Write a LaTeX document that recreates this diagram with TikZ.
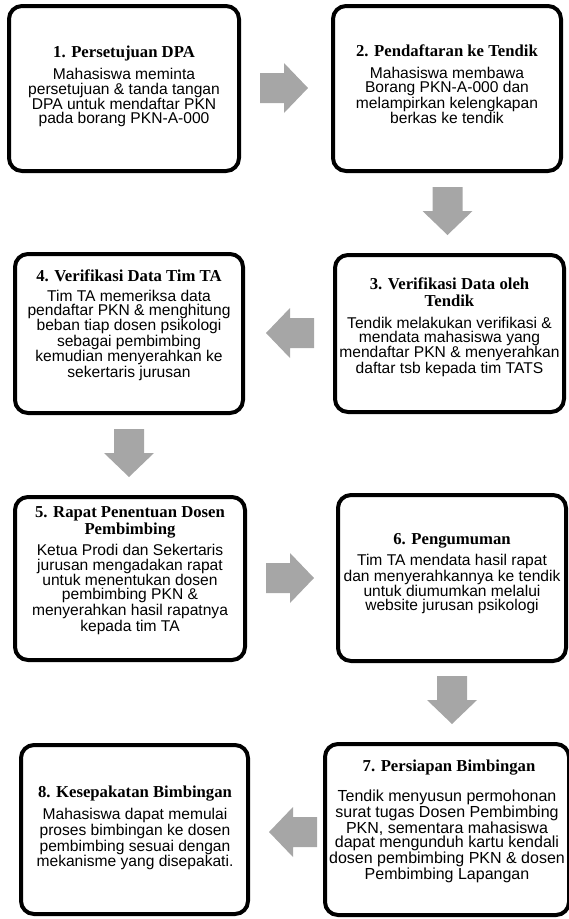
\documentclass[tikz,border=0pt]{standalone}
\usepackage{fontspec}
\setmainfont{Liberation Serif}
\newfontfamily\bodyfam{Liberation Sans}
\newfontfamily\titlefam{Liberation Serif}
\definecolor{arrowgray}{RGB}{166,166,166}
\tikzset{
  box/.style={draw=black, line width=4pt, rounded corners=13pt, fill=white, inner sep=0pt},
  ttl/.style={anchor=base, align=center, inner sep=0pt, font=\titlefam\bfseries\fontsize{16.7}{17.3}\selectfont},
  bdy/.style={anchor=base, align=center, inner sep=0pt, font=\bodyfam\fontsize{15.6}{14.3}\selectfont},
  blockarrow/.pic={\fill[arrowgray] (-24,-15) -- (0,-15) -- (0,-25) -- (24,0) -- (0,25) -- (0,15) -- (-24,15) -- cycle;}
}
\begin{document}
\begin{tikzpicture}[x=1pt,y=-1pt]
\useasboundingbox (0,0) rectangle (569,919);
\begin{scope}
\clip (0,0) rectangle (569,919);
% boxes
\node[box, minimum width=230pt, minimum height=165pt] (b1) at (124,88.5) {};
\node[box, minimum width=228pt, minimum height=165pt] (b2) at (447,88.5) {};
\node[box, minimum width=229pt, minimum height=157pt] (b3) at (449.5,333.5) {};
\node[box, minimum width=228pt, minimum height=159pt] (b4) at (129,333.5) {};
\node[box, minimum width=230pt, minimum height=163pt] (b5) at (130,578.5) {};
\node[box, minimum width=228pt, minimum height=166pt] (b6) at (452,578) {};
\node[box, minimum width=244pt, minimum height=171pt] (b7) at (447,829.5) {};
\node[box, minimum width=227pt, minimum height=169pt] (b8) at (134.5,829.5) {};
\end{scope}
% titles (anchor base = baseline of the last line)
\node[ttl] (t1) at (124,57) {1. Persetujuan DPA};
\node[ttl] (t2) at (447,56) {2. Pendaftaran ke Tendik};
\node[ttl] (t3) at (449.5,306.8) {3. Verifikasi Data oleh\\Tendik};
\node[ttl] (t4) at (129,281) {4. Verifikasi Data Tim TA};
\node[ttl] (t5) at (130,534.8) {5. Rapat Penentuan Dosen\\Pembimbing};
\node[ttl] (t6) at (452,544.3) {6. Pengumuman};
\node[ttl] (t7) at (449,771.7) {7. Persiapan Bimbingan};
\node[ttl] (t8) at (135,797.3) {8. Kesepakatan Bimbingan};
% bodies (anchor base = baseline of the last line)
\node[bdy] (d1) at (124,123.9) {Mahasiswa meminta\\persetujuan \& tanda tangan\\DPA untuk mendaftar PKN\\pada borang PKN-A-000};
\node[bdy] (d2) at (447,123.9) {Mahasiswa membawa\\Borang PKN-A-000 dan\\melampirkan kelengkapan\\berkas ke tendik};
\node[bdy] (d3) at (449.5,373.4) {Tendik melakukan verifikasi \&\\mendata mahasiswa yang\\mendaftar PKN \& menyerahkan\\daftar tsb kepada tim TATS};
\node[bdy] (d4) at (129,377.5) {Tim TA memeriksa data\\pendaftar PKN \& menghitung\\beban tiap dosen psikologi\\sebagai pembimbing\\kemudian menyerahkan ke\\sekertaris jurusan};
\node[bdy] (d5) at (130,631) {Ketua Prodi dan Sekertaris\\jurusan mengadakan rapat\\untuk menentukan dosen\\pembimbing PKN \&\\menyerahkan hasil rapatnya\\kepada tim TA};
\node[bdy] (d6) at (452,610.9) {Tim TA mendata hasil rapat\\dan menyerahkannya ke tendik\\untuk diumumkan melalui\\website jurusan psikologi};
\node[bdy, font=\bodyfam\fontsize{16.0}{14.3}\selectfont] (d7) at (447,879.5) {Tendik menyusun permohonan\\surat tugas Dosen Pembimbing\\PKN, sementara mahasiswa\\dapat mengunduh kartu kendali\\dosen pembimbing PKN \& dosen\\Pembimbing Lapangan};
\node[bdy] (d8) at (135,866.6) {Mahasiswa dapat memulai\\proses bimbingan ke dosen\\pembimbing sesuai dengan\\mekanisme yang disepakati.};
% block arrows
\pic at (284,88) {blockarrow};
\pic[rotate=-90] at (447.5,211) {blockarrow};
\pic[rotate=180] at (290,333) {blockarrow};
\pic[rotate=-90] at (129,453) {blockarrow};
\pic at (290,578) {blockarrow};
\pic[rotate=-90] at (452,700) {blockarrow};
\pic[rotate=180] at (293,832) {blockarrow};
\end{tikzpicture}
\end{document}
